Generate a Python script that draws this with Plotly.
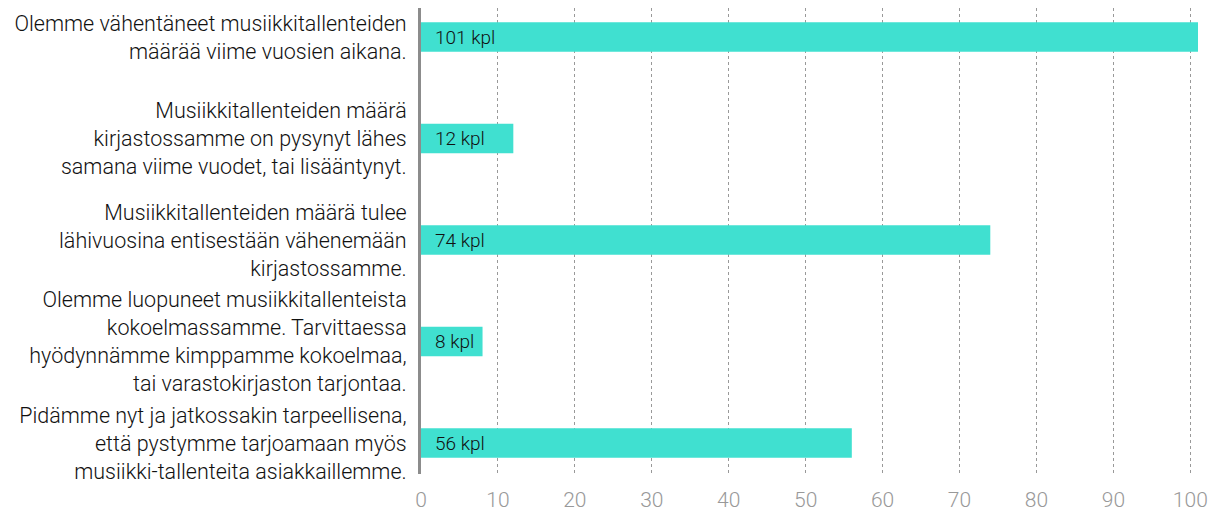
import plotly.graph_objects as go

categories = [
    "Olemme vähentäneet musiikkitallenteiden<br>määrää viime vuosien aikana.",
    "Musiikkitallenteiden määrä<br>kirjastossamme on pysynyt lähes<br>samana viime vuodet, tai lisääntynyt.",
    "Musiikkitallenteiden määrä tulee<br>lähivuosina entisestään vähenemään<br>kirjastossamme.",
    "Olemme luopuneet musiikkitallenteista<br>kokoelmassamme. Tarvittaessa<br>hyödynnämme kimppamme kokoelmaa,<br>tai varastokirjaston tarjontaa.",
    "Pidämme nyt ja jatkossakin tarpeellisena,<br>että pystymme tarjoamaan myös<br>musiikki-tallenteita asiakkaillemme.",
]
values = [101, 12, 74, 8, 56]
bar_labels = [f"{v} kpl" for v in values]
x_ticks = [0, 10, 20, 30, 40, 50, 60, 70, 80, 90, 100]

idx = list(range(len(categories)))

fig = go.Figure()
fig.add_trace(go.Bar(
    x=values, y=idx, orientation="h",
    marker=dict(color="#40E0D0", line=dict(width=0)),
    width=0.29, hoverinfo="skip",
))
for i, lab in zip(idx, bar_labels):
    fig.add_annotation(x=0, y=i, text=lab, showarrow=False, xanchor="left",
                       yanchor="middle", xshift=12,
                       font=dict(family="Roboto", size=19, color="#111", weight=300))

fig.update_layout(
    width=1213, height=509,
    margin=dict(l=413, r=23, t=0, b=43, autoexpand=False),
    paper_bgcolor="white", plot_bgcolor="white",
    showlegend=False,
    font=dict(family="Roboto", weight=300),
)
fig.update_xaxes(
    range=[0, 101], tickvals=x_ticks, showline=False, zeroline=False,
    showgrid=True, gridcolor="#999", griddash="dot", gridwidth=1,
    tickfont=dict(family="Roboto", size=21, color="#999", weight=300),
    ticks="", ticklabelstandoff=11, automargin=False,
)
fig.update_yaxes(
    range=[4.305, -0.286], tickvals=idx, ticktext=categories,
    showline=True, linecolor="#8c8c8c", linewidth=3, zeroline=False,
    showgrid=False, ticks="", ticklabelstandoff=7, automargin=False,
    tickfont=dict(family="Roboto", size=21.5, color="#111", weight=300),
)
fig.write_html("out.html")
